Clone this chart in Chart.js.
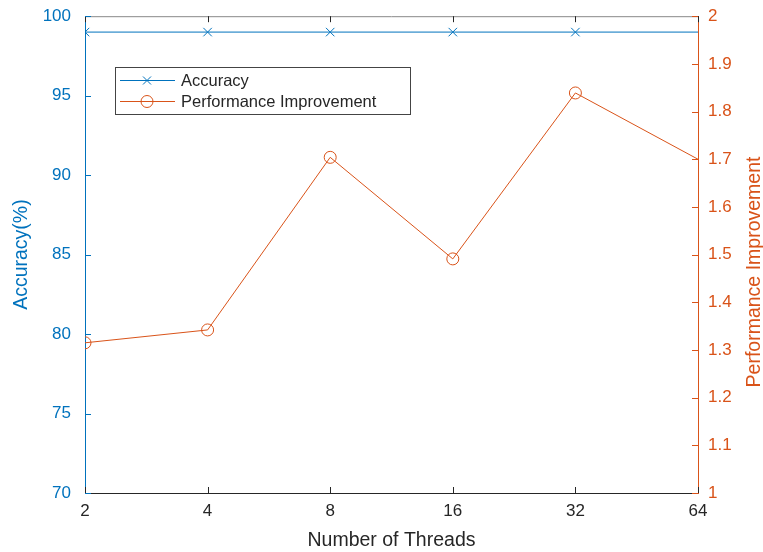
<!DOCTYPE html>
<html>
<head>
<meta charset="utf-8">
<script src="https://cdn.jsdelivr.net/npm/chart.js@4"></script>
<style>
  html, body { margin: 0; padding: 0; background: #fff; }
  #wrap { width: 763px; height: 552px; }
</style>
</head>
<body>
<div id="wrap"><canvas id="grafico"></canvas></div>
<script>
const threads = ["2", "4", "8", "16", "32", "64"];
const accuracy = [99, 99, 99, 99, 99, 99];
const improvement = [1.315, 1.342, 1.704, 1.491, 1.839, 1.70];

const azul = "#0072BD";
const laranja = "#D95319";
const cinza = "#262626";
const fonte = "'Liberation Sans', Arial, sans-serif";

// ticks para dentro, caixa de cima, legenda e titulo da direita (estilo MATLAB)
const moldura = {
  id: "moldura",
  afterDatasetsDraw(chart) {
    const { ctx, chartArea: a, scales } = chart;
    ctx.save();
    ctx.lineWidth = 1;
    ctx.strokeStyle = "#888";
    ctx.beginPath();
    ctx.moveTo(a.left, a.top + 0.5);
    ctx.lineTo(a.right, a.top + 0.5);
    ctx.stroke();

    ctx.strokeStyle = cinza;
    scales.x.ticks.forEach((t, i) => {
      const px = Math.round(scales.x.getPixelForTick(i)) + 0.5;
      ctx.beginPath();
      ctx.moveTo(px, a.bottom);
      ctx.lineTo(px, a.bottom - 6);
      ctx.moveTo(px, a.top);
      ctx.lineTo(px, a.top + 6);
      ctx.stroke();
    });
    ctx.strokeStyle = azul;
    scales.y.ticks.forEach((t) => {
      const py = Math.round(scales.y.getPixelForValue(t.value)) + 0.5;
      ctx.beginPath();
      ctx.moveTo(a.left, py);
      ctx.lineTo(a.left + 6, py);
      ctx.stroke();
    });
    ctx.strokeStyle = laranja;
    scales.y1.ticks.forEach((t) => {
      const py = Math.round(scales.y1.getPixelForValue(t.value)) + 0.5;
      ctx.beginPath();
      ctx.moveTo(a.right, py);
      ctx.lineTo(a.right - 6, py);
      ctx.stroke();
    });

    // titulo do eixo da direita, lido de baixo para cima
    ctx.save();
    ctx.translate(755, 272);
    ctx.rotate(-Math.PI / 2);
    ctx.fillStyle = laranja;
    ctx.font = "19.5px " + fonte;
    ctx.textAlign = "center";
    ctx.textBaseline = "middle";
    ctx.fillText("Performance Improvement", 0, 0);
    ctx.restore();

    // legenda dentro do grafico
    const lx = 115, ly = 67, lw = 295, lh = 47;
    ctx.fillStyle = "#fff";
    ctx.fillRect(lx, ly, lw, lh);
    ctx.strokeStyle = "#444";
    ctx.strokeRect(lx + 0.5, ly + 0.5, lw, lh);
    ctx.font = "16.5px " + fonte;
    ctx.textBaseline = "middle";
    chart.data.datasets.forEach((ds, i) => {
      const y = ly + 13.5 + i * 21;
      ctx.strokeStyle = ds.borderColor;
      ctx.lineWidth = 1;
      ctx.beginPath();
      ctx.moveTo(lx + 5, y);
      ctx.lineTo(lx + 60, y);
      ctx.stroke();
      const cx = lx + 32;
      if (ds.pointStyle === "crossRot") {
        ctx.beginPath();
        ctx.moveTo(cx - 4, y - 4); ctx.lineTo(cx + 4, y + 4);
        ctx.moveTo(cx - 4, y + 4); ctx.lineTo(cx + 4, y - 4);
        ctx.stroke();
      } else {
        ctx.beginPath();
        ctx.arc(cx, y, 6, 0, Math.PI * 2);
        ctx.stroke();
      }
      ctx.fillStyle = cinza;
      ctx.fillText(ds.label, lx + 66, y + 1);
    });
    ctx.restore();
  }
};

new Chart(document.getElementById("grafico"), {
  type: "line",
  data: {
    labels: threads,
    datasets: [
      {
        label: "Accuracy",
        data: accuracy,
        yAxisID: "y",
        borderColor: azul,
        borderWidth: 1,
        pointStyle: "crossRot",
        pointRadius: [6, 6, 6, 6, 6, 0],
        pointBorderColor: azul,
        pointBorderWidth: 1,
        pointBackgroundColor: "transparent",
        clip: 0,
      },
      {
        label: "Performance Improvement",
        data: improvement,
        yAxisID: "y1",
        borderColor: laranja,
        borderWidth: 1,
        pointStyle: "circle",
        pointRadius: [6, 6, 6, 6, 6, 0],
        pointBorderColor: laranja,
        pointBorderWidth: 1,
        pointBackgroundColor: "transparent",
        clip: 0,
      },
    ],
  },
  options: {
    responsive: true,
    maintainAspectRatio: false,
    animation: false,
    layout: { padding: { top: 9, left: 0, right: 0, bottom: 0 } },
    plugins: { legend: { display: false }, tooltip: { enabled: false } },
    scales: {
      x: {
        offset: false,
        grid: { display: false },
        border: { color: cinza, width: 1 },
        ticks: { color: cinza, font: { family: fonte, size: 17 }, padding: 0, maxRotation: 0 },
        title: { display: true, text: "Number of Threads", color: cinza, font: { family: fonte, size: 19.5 }, padding: { top: 0, bottom: 0 } },
        afterFit(s) { s.height = 59; },
      },
      y: {
        position: "left",
        min: 70,
        max: 100,
        grid: { display: false },
        border: { color: azul, width: 1 },
        ticks: { stepSize: 5, color: azul, font: { family: fonte, size: 17 }, padding: 6 },
        title: { display: true, text: "Accuracy(%)", color: azul, font: { family: fonte, size: 19.5 }, padding: { top: 10, bottom: 0 } },
        afterFit(s) { s.width = 85; },
      },
      y1: {
        position: "right",
        min: 1,
        max: 2,
        grid: { display: false },
        border: { color: laranja, width: 1 },
        ticks: { stepSize: 0.1, color: laranja, font: { family: fonte, size: 17 }, padding: 2,
          callback: (v) => (Math.round(v * 10) / 10).toString() },
        afterFit(s) { s.width = 65; },
      },
    },
  },
  plugins: [moldura],
});
</script>
</body>
</html>
